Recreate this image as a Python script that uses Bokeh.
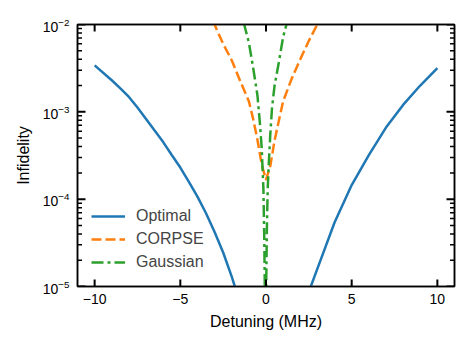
import math
from bokeh.plotting import figure
from bokeh.models import (Range1d, LinearAxis, LogAxis, FixedTicker, Legend, LegendItem,
                          CustomJSTickFormatter)
from bokeh.embed import file_html
from bokeh.resources import INLINE

# ---- data ----
opt_x = [-10, -9, -8.5, -8, -7.5, -7, -6.5, -6, -5.5, -5, -4.5, -4, -3.5, -3, -2.5, -2, -1.5, -1, 0, 0.5, 1,
         1.5, 2, 2.5, 3, 4, 5, 6, 7, 8, 9, 10]
opt_y = [3.4e-3, 2.3e-3, 1.86e-3, 1.48e-3, 1.12e-3, 8.3e-4, 6.1e-4, 4.5e-4, 3.2e-4, 2.3e-4, 1.58e-4, 1.07e-4,
         6.9e-5, 4.2e-5, 2.45e-5, 1.3e-5, 6.3e-6, 2.5e-6, 6e-7, 4e-7, 6e-7, 1.5e-6, 4e-6, 8.7e-6, 1.6e-5,
         5.4e-5, 1.45e-4, 3.2e-4, 6.6e-4, 1.2e-3, 2.0e-3, 3.16e-3]

corpse_x = [-3.1, -2.5, -2.0, -1.5, -1.0, -0.75, -0.5, -0.25, 0.0, 0.25, 0.5, 0.75, 1.0, 1.5, 2.0, 2.5, 3.1]
corpse_y = [1.1e-2, 6.0e-3, 3.9e-3, 2.24e-3, 1.32e-3, 8.3e-4, 4.8e-4, 2.5e-4, 1.66e-4, 2.4e-4, 4.7e-4,
            7.9e-4, 1.32e-3, 2.4e-3, 4.0e-3, 6.5e-3, 1.1e-2]

gauss_x = [-1.3, -1.0, -0.75, -0.5, -0.35, -0.25, -0.15, -0.1, -0.06, -0.03, 0.0, 0.05, 0.1, 0.15, 0.25,
           0.35, 0.5, 0.75, 1.0, 1.3]
gauss_y = [1.05e-2, 6.2e-3, 3.2e-3, 1.55e-3, 7.2e-4, 3.8e-4, 1.3e-4, 3.4e-5, 6.3e-6, 1e-7, 6.3e-6, 4.5e-5,
           1.3e-4, 2.3e-4, 5.5e-4, 1.1e-3, 2.0e-3, 3.7e-3, 7.2e-3, 1.2e-2]

x_ticks = [-10, -5, 0, 5, 10]
x_tick_labels = {-10: "\u221210", -5: "\u22125", 0: "0", 5: "5", 10: "10"}
y_major = [1e-5, 1e-4, 1e-3, 1e-2]

X_LIM = (-11, 11)
Y_LIM = (1e-5, 1e-2)

FONT = "Liberation Sans"

p = figure(width=469, height=346, x_range=Range1d(*X_LIM), y_range=Range1d(*Y_LIM),
           y_axis_type="log", output_backend="svg", toolbar_location=None,
           min_border_left=77, min_border_right=15, min_border_top=24, min_border_bottom=60)
p.grid.visible = False
p.background_fill_color = "white"
p.border_fill_color = "white"
p.outline_line_color = "black"
p.outline_line_width = 1.5

y_minor = []
for d in y_major[:-1]:
    for k in range(2, 10):
        y_minor.append(k * d)

r1 = p.line(opt_x, opt_y, line_color="#1f77b4", line_width=2.5)
r2 = p.line(corpse_x, corpse_y, line_color="#ff7f0e", line_width=2.5, line_dash="10 4")
r3 = p.line(gauss_x, gauss_y, line_color="#2ca02c", line_width=2.5, line_dash="12 4 3 4")

# inward tick marks on all four sides, drawn as short rays of fixed screen length
n = len(x_ticks)
p.ray(x=x_ticks, y=[Y_LIM[0]] * n, length=7, length_units="screen", angle=math.pi / 2,
      line_color="black", line_width=2)
p.ray(x=x_ticks, y=[Y_LIM[1]] * n, length=7, length_units="screen", angle=-math.pi / 2,
      line_color="black", line_width=2)
for xv, ang in ((X_LIM[0], 0.0), (X_LIM[1], math.pi)):
    p.ray(x=[xv] * len(y_major), y=y_major, length=8, length_units="screen", angle=ang,
          line_color="black", line_width=2)
    p.ray(x=[xv] * len(y_minor), y=y_minor, length=4.5, length_units="screen", angle=ang,
          line_color="black", line_width=1.5)

def style(ax):
    ax.axis_line_color = "black"
    ax.axis_line_width = 1.5
    ax.major_tick_in = 0
    ax.major_tick_out = 0
    ax.minor_tick_in = 0
    ax.minor_tick_out = 0
    ax.major_label_text_font = FONT
    ax.major_label_text_font_size = "14px"
    ax.major_label_text_color = "black"
    ax.axis_label_text_font = FONT
    ax.axis_label_text_font_size = "16px"
    ax.axis_label_text_font_style = "normal"
    ax.axis_label_text_color = "black"

xax = p.xaxis[0]
xax.ticker = FixedTicker(ticks=x_ticks)
xax.major_label_overrides = x_tick_labels
xax.axis_label = "Detuning (MHz)"
style(xax)
xax.major_label_standoff = 7
xax.axis_label_standoff = 6

yax = p.yaxis[0]
yax.ticker = FixedTicker(ticks=y_major, minor_ticks=y_minor)
yax.axis_label = "Infidelity"
style(yax)
yax.major_label_standoff = 8
yax.axis_label_standoff = 8

blank = "return ''"
top = LinearAxis(ticker=FixedTicker(ticks=x_ticks), formatter=CustomJSTickFormatter(code=blank))
style(top)
top.major_label_standoff = 0
p.add_layout(top, "above")
right = LogAxis(ticker=FixedTicker(ticks=y_major, minor_ticks=y_minor),
                formatter=CustomJSTickFormatter(code=blank))
style(right)
right.major_label_standoff = 0
p.add_layout(right, "right")

legend = Legend(items=[LegendItem(label="Optimal", renderers=[r1]),
                       LegendItem(label="CORPSE", renderers=[r2]),
                       LegendItem(label="Gaussian", renderers=[r3])],
                location=(14, 14))
legend.background_fill_alpha = 0
legend.border_line_alpha = 0
legend.padding = 0
legend.margin = 0
legend.spacing = 3
legend.glyph_width = 34
legend.glyph_height = 20
legend.label_height = 20
legend.label_standoff = 11
legend.label_text_font = FONT
legend.label_text_font_size = "16px"
p.add_layout(legend, "center")

open("out.html", "w").write(file_html(p, INLINE))
